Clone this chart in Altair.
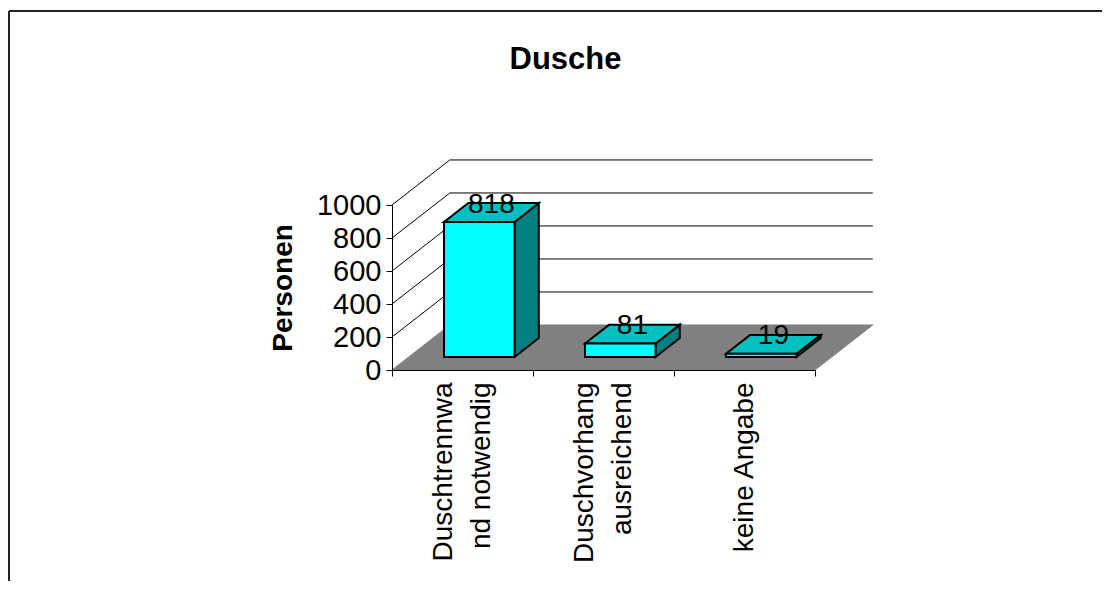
import altair as alt
import pandas as pd

# ---------------- data ----------------
title_text = "Dusche"
y_title = "Personen"
categories = ["Duschtrennwand notwendig", "Duschvorhang ausreichend", "keine Angabe"]
category_lines = [["Duschtrennwa", "nd notwendig"], ["Duschvorhang", "ausreichend"], ["keine Angabe"]]
values = [818, 81, 19]
y_ticks = [0, 200, 400, 600, 800, 1000]

# ---------------- layout / projection (styles) ----------------
W, H = 1093, 570
X_RANGE = [383, 806]          # pixel range of the front category axis
Y_RANGE = [359, 194]          # pixel range of the front value axis
DX = 0.41                     # 3-D depth shift, in category units
DY = 273                      # 3-D depth shift, in value units
BAR_W = 0.5
D0, D1 = 0.29, 0.71           # bar depth span (fraction of floor depth)
FONT = "Liberation Sans"
LINE_H = 38
PX_PER_CAT = (X_RANGE[1] - X_RANGE[0]) / len(categories)

n = len(categories)
sx = (D1 - D0) * DX
sy = (D1 - D0) * DY

front_rows, side_rows, top_rows, label_rows = [], [], [], []
for i, (c, v) in enumerate(zip(categories, values)):
    xl = i + 0.5 - BAR_W / 2 + D0 * DX
    xr = xl + BAR_W
    front_rows.append(dict(cat=c, xl=xl, xr=xr, ylo=D0 * DY, yhi=v + D0 * DY))
    side_rows += [dict(cat=c, x=xr, ylo=D0 * DY, yhi=v + D0 * DY),
                  dict(cat=c, x=xr + sx, ylo=D1 * DY, yhi=v + D1 * DY)]
    top_rows += [dict(cat=c, y=v + D0 * DY, xl=xl, xr=xr),
                 dict(cat=c, y=v + D1 * DY, xl=xl + sx, xr=xr + sx)]
    label_rows.append(dict(cat=c, x=i + 0.5 + 0.5 * DX, y=v + 0.5 * DY, text=str(v)))

floor_rows = [dict(y=0, xl=0, xr=n), dict(y=DY, xl=DX, xr=n + DX)]
grid_rows = []
for t in y_ticks[1:]:
    grid_rows.append(dict(x=DX, x2=n + DX, y=t + DY, y2=t + DY))
    grid_rows.append(dict(x=0, x2=DX, y=t, y2=t + DY))

front_df = pd.DataFrame(front_rows)
side_df = pd.DataFrame(side_rows)
top_df = pd.DataFrame(top_rows)
label_df = pd.DataFrame(label_rows)
floor_df = pd.DataFrame(floor_rows)
grid_df = pd.DataFrame(grid_rows)

# ---------------- scales / axes ----------------
xs = alt.Scale(domain=[0, n], range=X_RANGE, nice=False, zero=False)
ys = alt.Scale(domain=[0, max(y_ticks)], range=Y_RANGE, nice=False, zero=False)

# category label anchors: multi-line blocks are centred on the category
expr = ""
x_vals = []
for i, lines in enumerate(category_lines):
    anchor = round(i + 0.5 - (len(lines) - 1) * LINE_H / 2 / PX_PER_CAT, 4)
    x_vals += [i, anchor]
    arr = "[" + ",".join("'" + s + "'" for s in lines) + "]"
    expr += "abs(datum.value - %s) < 0.001 ? %s : " % (anchor, arr)
expr += "''"
x_vals.append(n)

xaxis = alt.Axis(orient="bottom", offset=-(H - Y_RANGE[0]), values=x_vals,
                 labelExpr=expr, labelAngle=270, labelFontSize=28, labelLineHeight=LINE_H,
                 labelPadding=6, labelColor="black", labelFont=FONT, labelLimit=500,
                 labelOverlap=False, labelFlush=False, labelBound=False,
                 tickSize=6, tickColor="black", tickWidth=1,
                 tickOpacity={"condition": {"test": "datum.value % 1 !== 0", "value": 0}, "value": 1},
                 domainColor="black", domainWidth=1, grid=False, zindex=1)
yaxis = alt.Axis(orient="left", offset=-X_RANGE[0], values=y_ticks, format="d",
                 labelFontSize=29, labelPadding=5, labelColor="black", labelFont=FONT,
                 labelOverlap=False, labelFlush=False,
                 tickSize=6, tickColor="black", tickWidth=1,
                 domainColor="black", domainWidth=1, grid=False, zindex=1,
                 titleFontSize=28, titleFontWeight="bold", titleColor="black",
                 titleFont=FONT, titlePadding=19)


def X(f):
    return alt.X(f, type="quantitative", scale=xs, axis=xaxis, title=None, stack=None)


def Y(f):
    return alt.Y(f, type="quantitative", scale=ys, axis=yaxis, title=y_title, stack=None)


floor = alt.Chart(floor_df).mark_area(orient="horizontal", fill="#808080", stroke="#808080", strokeWidth=1).encode(
    y=Y("y"), x=X("xl"), x2=alt.X2("xr"))

grid = alt.Chart(grid_df).mark_rule(color="black", strokeWidth=1).encode(
    x=X("x"), x2=alt.X2("x2"), y=Y("y"), y2=alt.Y2("y2"))

side = alt.Chart(side_df).mark_area(fill="#008080", stroke="black", strokeWidth=2).encode(
    x=X("x"), y=Y("yhi"), y2=alt.Y2("ylo"), detail="cat:N")

top = alt.Chart(top_df).mark_area(orient="horizontal", fill="#00C0C0", stroke="black", strokeWidth=2).encode(
    y=Y("y"), x=X("xl"), x2=alt.X2("xr"), detail="cat:N")

front = alt.Chart(front_df).mark_rect(fill="#00FFFF", stroke="black", strokeWidth=2).encode(
    x=X("xl"), x2=alt.X2("xr"), y=Y("ylo"), y2=alt.Y2("yhi"))

labels = alt.Chart(label_df).mark_text(fontSize=28, font=FONT, color="black", align="center",
                                       baseline="alphabetic").encode(
    x=X("x"), y=Y("y"), text="text:N")

border_df = pd.DataFrame({"k": [0]})
border_left = alt.Chart(border_df).mark_rule(color="#222222", strokeWidth=2).encode(
    x=alt.value(0), y=alt.value(0), y2=alt.value(H))
border_top = alt.Chart(border_df).mark_rule(color="#222222", strokeWidth=2).encode(
    x=alt.value(0), x2=alt.value(W), y=alt.value(0))

chart = alt.layer(floor, grid, side, top, front, labels, border_left, border_top).properties(
    width=W, height=H,
    padding={"left": 1, "top": 3, "right": 0, "bottom": 0},
    autosize=alt.AutoSizeParams(type="none"),
    title=alt.TitleParams(text=title_text, fontSize=31, fontWeight="bold", font=FONT, color="black",
                          anchor="middle", offset=-66, dx=10),
).configure(font=FONT).configure_view(stroke="transparent")

chart.save("out.html", embed_options={"renderer": "svg", "actions": False})
